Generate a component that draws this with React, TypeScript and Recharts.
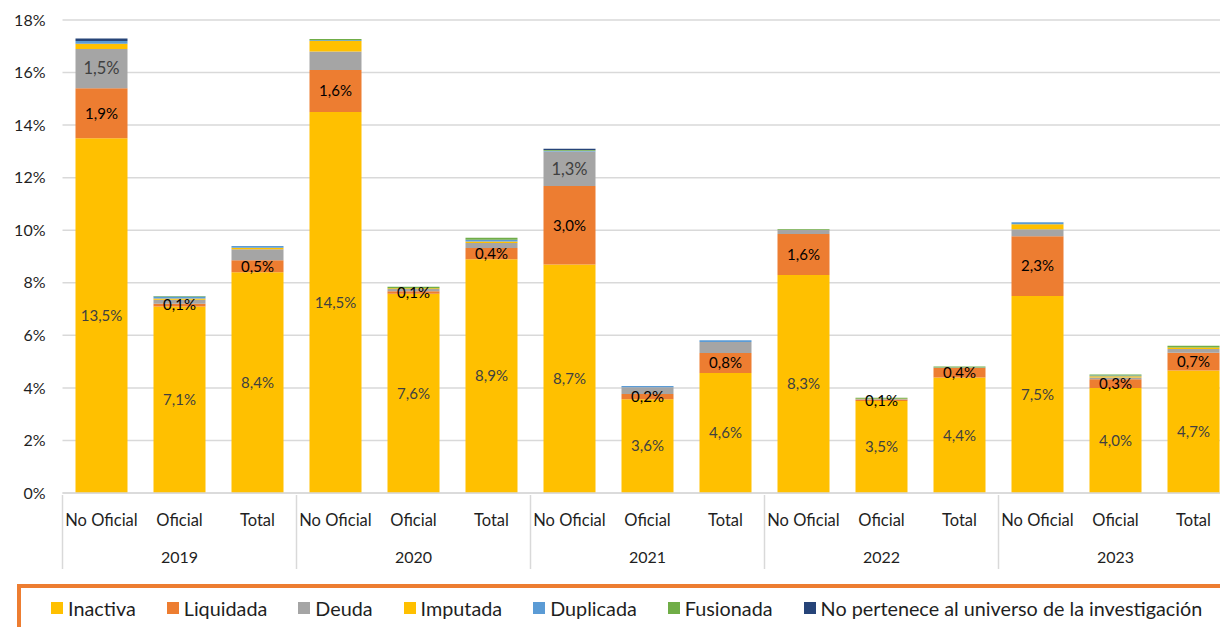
import React from 'react';
import { BarChart, Bar, XAxis, YAxis, CartesianGrid, LabelList } from 'recharts';

const categories = [
  'No Oficial', 'Oficial', 'Total',
  'No Oficial', 'Oficial', 'Total',
  'No Oficial', 'Oficial', 'Total',
  'No Oficial', 'Oficial', 'Total',
  'No Oficial', 'Oficial', 'Total',
];
const years = [
  '2019', '2019', '2019',
  '2020', '2020', '2020',
  '2021', '2021', '2021',
  '2022', '2022', '2022',
  '2023', '2023', '2023',
];
const yTicks = [0, 2, 4, 6, 8, 10, 12, 14, 16, 18];

const inactiva = [13.5, 7.1, 8.4, 14.5, 7.58, 8.9, 8.7, 3.57, 4.57, 8.3, 3.5, 4.4, 7.5, 4.0, 4.66];
const liquidada = [1.9, 0.1, 0.46, 1.6, 0.1, 0.42, 2.98, 0.2, 0.76, 1.56, 0.06, 0.36, 2.27, 0.33, 0.68];
const deuda = [1.5, 0.15, 0.42, 0.7, 0.08, 0.19, 1.32, 0.25, 0.42, 0.15, 0.02, 0.02, 0.27, 0.07, 0.14];
const imputada = [0.2, 0.05, 0.05, 0.4, 0.03, 0.06, 0, 0, 0, 0, 0.01, 0, 0.19, 0.04, 0.06];
const duplicada = [0.1, 0.08, 0.07, 0.03, 0, 0.07, 0.02, 0.05, 0.06, 0, 0, 0, 0.07, 0.03, 0];
const fusionada = [0, 0.02, 0, 0.05, 0.06, 0.07, 0.03, 0, 0, 0.03, 0.03, 0.03, 0, 0.04, 0.06];
const noPertenece = [0.1, 0, 0, 0, 0, 0, 0.05, 0, 0, 0, 0, 0, 0, 0, 0];

const series = [
  { key: 'inactiva', name: 'Inactiva', color: '#FFC000' },
  { key: 'liquidada', name: 'Liquidada', color: '#ED7D31' },
  { key: 'deuda', name: 'Deuda', color: '#A5A5A5' },
  { key: 'imputada', name: 'Imputada', color: '#FFC000' },
  { key: 'duplicada', name: 'Duplicada', color: '#5B9BD5' },
  { key: 'fusionada', name: 'Fusionada', color: '#70AD47' },
  { key: 'noPertenece', name: 'No pertenece al universo de la investigación', color: '#264478' },
];

const data = categories.map((c, i) => ({
  name: c,
  year: years[i],
  inactiva: inactiva[i],
  liquidada: liquidada[i],
  deuda: deuda[i],
  imputada: imputada[i],
  duplicada: duplicada[i],
  fusionada: fusionada[i],
  noPertenece: noPertenece[i],
}));

const FONT = 'Lato, "Noto Sans", sans-serif';
const TEXT = '#1f1f1f';

const fmt = (v: any) =>
  typeof v === 'number' ? v.toFixed(1).replace('.', ',') + '%' : '';
const fmtBig = (v: any) => (typeof v === 'number' && v >= 1 ? fmt(v) : '');

function XTick(props: any) {
  const { x, y, payload } = props;
  const i = payload?.index ?? props.index ?? 0;
  const half = payload?.offset || 39;
  return (
    <g>
      {i % 3 === 0 && (
        <line x1={x - half} x2={x - half} y1={y} y2={y + 74} stroke="#d9d9d9" strokeWidth={1.5} />
      )}
      <text x={x} y={y + 25} textAnchor="middle" dominantBaseline="central"
        fontFamily={FONT} fontSize={16.5} fill={TEXT}>
        {categories[i]}
      </text>
      {i % 3 === 1 && (
        <text x={x} y={y + 61} textAnchor="middle" dominantBaseline="central"
          fontFamily={FONT} fontSize={16} fill={TEXT}>
          {years[i]}
        </text>
      )}
    </g>
  );
}

export default function App() {
  return (
    <div style={{ position: 'absolute', left: 0, top: 0, width: 1220, height: 627, overflow: 'hidden', background: '#fff' }}>
      <BarChart
        width={1240}
        height={627}
        data={data}
        margin={{ top: 20, right: 7.5, left: 0, bottom: 54 }}
        barSize={52}
      >
        <CartesianGrid vertical={false} stroke="#d9d9d9" strokeWidth={1.5} />
        <XAxis
          dataKey="name"
          interval={0}
          height={80}
          tickLine={false}
          tickSize={0}
          axisLine={{ stroke: '#d9d9d9', strokeWidth: 1.5 }}
          tick={<XTick />}
        />
        <YAxis
          width={62.5}
          domain={[0, 18]}
          ticks={yTicks}
          axisLine={false}
          tickLine={false}
          tickSize={0}
          tickMargin={17}
          tickFormatter={(v: number) => `${v}%`}
          tick={{ fontFamily: FONT, fontSize: 16, fill: TEXT }}
        />
        {series.map((s) => (
          <Bar key={s.key} dataKey={s.key} name={s.name} stackId="a" fill={s.color} isAnimationActive={false}>
            {s.key === 'inactiva' && (
              <LabelList dataKey={s.key} position="center" formatter={fmt}
                style={{ fontFamily: FONT, fontSize: 15, fill: '#404040' }} />
            )}
            {s.key === 'liquidada' && (
              <LabelList dataKey={s.key} position="center" formatter={fmt}
                style={{ fontFamily: FONT, fontSize: 15, fill: '#000' }} />
            )}
            {s.key === 'deuda' && (
              <LabelList dataKey={s.key} position="center" formatter={fmtBig}
                style={{ fontFamily: FONT, fontSize: 16.5, fill: '#404040' }} />
            )}
          </Bar>
        ))}
      </BarChart>
      <div
        style={{
          position: 'absolute', left: 17, top: 584, width: 1300, height: 100,
          border: '4px solid #ED7D31', boxSizing: 'border-box', background: '#fff',
        }}
      >
        <div style={{ position: 'absolute', left: 30, top: 6, display: 'flex', alignItems: 'center', height: 28, whiteSpace: 'nowrap' }}>
          {series.map((s) => (
            <div key={s.key} style={{ display: 'flex', alignItems: 'center', marginRight: 31 }}>
              <span style={{ display: 'inline-block', width: 12, height: 12, background: s.color, marginRight: 5 }} />
              <span style={{ fontFamily: FONT, fontSize: 19.8, color: TEXT }}>{s.name}</span>
            </div>
          ))}
        </div>
      </div>
    </div>
  );
}
